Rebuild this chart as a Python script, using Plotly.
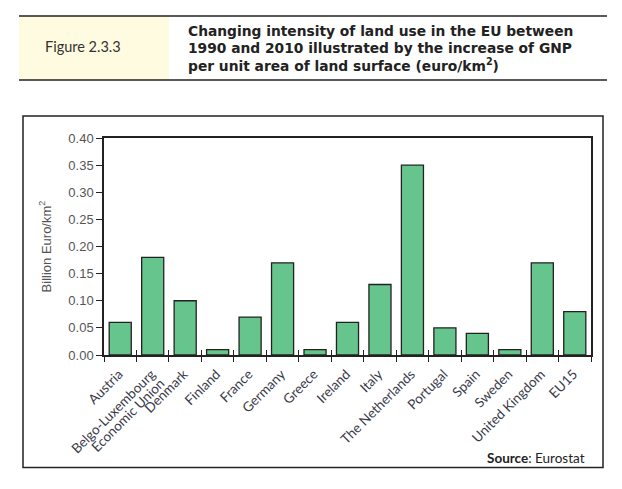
import plotly.graph_objects as go

categories = ["Austria", "Belgo-Luxembourg<br>Economic Union", "Denmark", "Finland", "France",
              "Germany", "Greece", "Ireland", "Italy", "The Netherlands", "Portugal", "Spain",
              "Sweden", "United Kingdom", "EU15"]
values = [0.06, 0.18, 0.10, 0.01, 0.07, 0.17, 0.01, 0.06, 0.13, 0.35, 0.05, 0.04, 0.01, 0.17, 0.08]
y_ticks = [0.0, 0.05, 0.10, 0.15, 0.20, 0.25, 0.30, 0.35, 0.40]
y_tick_labels = ["0.00", "0.05", "0.10", "0.15", "0.20", "0.25", "0.30", "0.35", "0.40"]
title_lines = ["Changing intensity of land use in the EU between",
               "1990 and 2010 illustrated by the increase of GNP",
               "per unit area of land surface (euro/km<sup>2</sup>)"]

W, H = 622, 489
L, R, T, B = 104, 591, 138, 355


def px(x):
    return (x - L) / (R - L)


def py(y):
    return (B - y) / (B - T)


def big(label):
    return "<br>".join("<span style='font-size:13.5px'>" + part + "</span>" for part in label.split("<br>"))


x_tick_text = [big(c) for c in categories]

fig = go.Figure()
fig.add_trace(go.Bar(
    x=categories, y=values, width=0.68,
    marker=dict(color="#66C48D", line=dict(color="#222222", width=1.3)),
    hoverinfo="skip",
))
# overlay axis for inward tick halves
fig.add_trace(go.Scatter(x=categories, y=[None] * len(categories), xaxis="x2", yaxis="y",
                         mode="markers", showlegend=False, hoverinfo="skip"))

fig.update_layout(
    width=W, height=H,
    margin=dict(l=L, r=W - R, t=T, b=H - B, pad=0, autoexpand=False),
    paper_bgcolor="white", plot_bgcolor="white",
    showlegend=False,
    xaxis=dict(
        type="category", tickson="boundaries", ticks="outside", ticklen=5,
        tickwidth=1.3, tickcolor="#222222", automargin=False,
        showline=True, linecolor="#222222", linewidth=1.5, mirror=True,
        showgrid=False, tickangle=-45, ticklabelstandoff=8,
        tickvals=categories, ticktext=x_tick_text,
        tickfont=dict(family="Lato, Open Sans", size=10, color="#3a3a4a"),
        range=[-0.5, len(categories) - 0.5],
    ),
    xaxis2=dict(
        type="category", overlaying="x", tickson="boundaries", ticks="inside", ticklen=5,
        tickwidth=1.3, tickcolor="#222222", showticklabels=False, showline=False,
        showgrid=False, range=[-0.5, len(categories) - 0.5], matches="x", automargin=False,
    ),
    yaxis=dict(
        range=[0, 0.40], tickvals=y_ticks, ticktext=y_tick_labels,
        ticks="outside", ticklen=6, tickwidth=1.3, tickcolor="#222222",
        showline=True, linecolor="#222222", linewidth=1.5, mirror=True,
        showgrid=False, zeroline=False, automargin=False,
        tickfont=dict(family="Liberation Sans, Arial", size=13, color="#555555"),
        title=dict(text="Billion Euro/km<sup>2</sup>", standoff=14,
                   font=dict(family="Liberation Sans, Arial", size=13, color="#555555")),
    ),
)

shapes = []
shapes.append(dict(type="rect", xref="paper", yref="paper", x0=px(19), x1=px(169), y0=py(80), y1=py(16),
                   fillcolor="#FFFBE0", line=dict(width=0), layer="below"))
shapes.append(dict(type="line", xref="paper", yref="paper", x0=px(19), x1=px(607), y0=py(16), y1=py(16),
                   line=dict(color="#222222", width=1.5)))
shapes.append(dict(type="line", xref="paper", yref="paper", x0=px(19), x1=px(607), y0=py(80), y1=py(80),
                   line=dict(color="#222222", width=1.5)))
shapes.append(dict(type="rect", xref="paper", yref="paper", x0=px(23), x1=px(603), y0=py(467.5), y1=py(116),
                   line=dict(color="#222222", width=1.5), fillcolor="rgba(0,0,0,0)"))
fig.update_layout(shapes=shapes)

fig.add_annotation(xref="paper", yref="paper", x=px(43), y=py(47), xanchor="left", yanchor="middle",
                   text="Figure 2.3.3", showarrow=False,
                   font=dict(family="Lato, Open Sans", size=14.5, color="#333333"))
for i, line in enumerate(title_lines):
    fig.add_annotation(xref="paper", yref="paper", x=px(186), y=py(31 + 17 * i), xanchor="left",
                       yanchor="middle", align="left", showarrow=False,
                       text="<b>" + line + "</b>",
                       font=dict(family="DejaVu Sans", size=13.8, color="#222222"))
fig.add_annotation(xref="paper", yref="paper", x=px(587), y=py(458), xanchor="right", yanchor="middle",
                   text="<b>Source</b>: Eurostat", showarrow=False,
                   font=dict(family="Lato, Open Sans", size=13.5, color="#222222"))

fig.write_html("out.html", config={"displayModeBar": False},
               post_script="document.body.style.margin='0';")
